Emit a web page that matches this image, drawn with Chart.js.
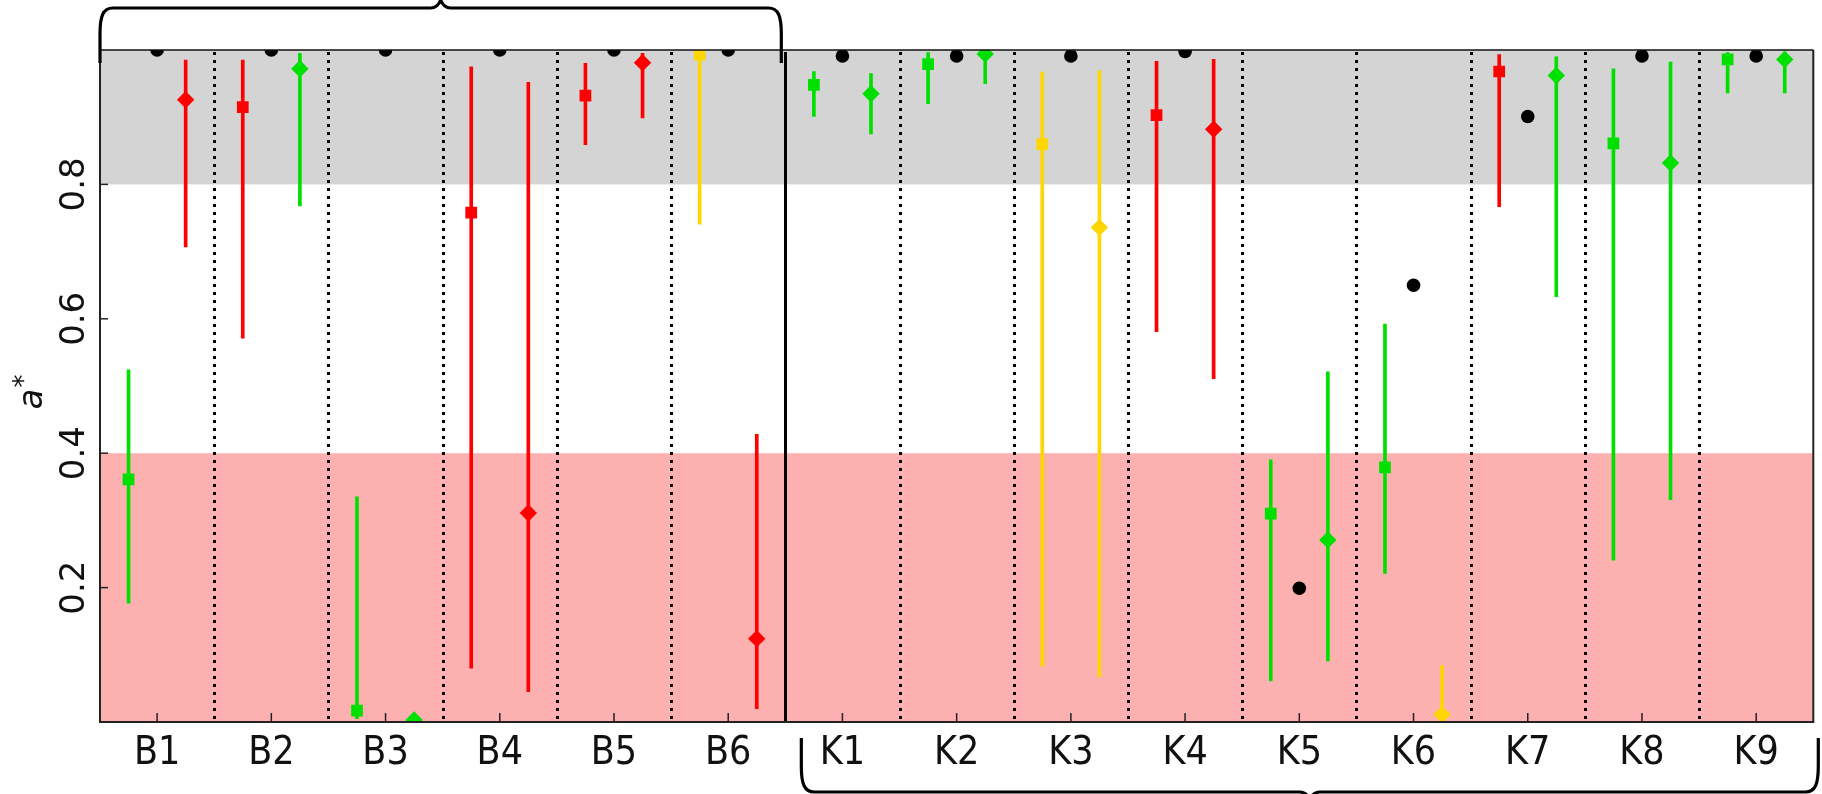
<!DOCTYPE html>
<html>
<head>
<meta charset="utf-8">
<script src="https://cdn.jsdelivr.net/npm/chart.js@4.4.0/dist/chart.umd.min.js"></script>
<style>
    html, body { margin: 0; padding: 0; background: #ffffff; }
    #wrap { width: 1822px; height: 794px; position: relative; }
</style>
</head>
<body>
<div id="wrap"><canvas id="chart"></canvas></div>
<script>
// Catégories (groupe B puis groupe K)
const categories = ['B1', 'B2', 'B3', 'B4', 'B5', 'B6', 'K1', 'K2', 'K3', 'K4', 'K5', 'K6', 'K7', 'K8', 'K9'];

// Carrés (à gauche de chaque catégorie)
const squareValue = [0.361, 0.915, 0.017, 0.758, 0.932, 0.993, 0.948, 0.979, 0.860, 0.903, 0.310, 0.379, 0.968, 0.861, 0.986];
const squareLow   = [0.177, 0.571, 0.005, 0.080, 0.859, 0.741, 0.901, 0.920, 0.083, 0.581, 0.061, 0.221, 0.767, 0.241, 0.936];
const squareHigh  = [0.524, 0.985, 0.335, 0.975, 0.980, 1.000, 0.968, 0.996, 0.967, 0.983, 0.390, 0.592, 0.993, 0.972, 0.996];

// Points noirs (au centre)
const circleValue = [1.0, 1.0, 1.0, 1.0, 1.0, 1.0, 0.991, 0.991, 0.991, 0.998, 0.199, 0.650, 0.901, 0.991, 0.991];

// Losanges (à droite de chaque catégorie)
const diamondValue = [0.926, 0.972, 0.003, 0.311, 0.981, 0.124, 0.935, 0.994, 0.736, 0.882, 0.271, 0.011, 0.962, 0.832, 0.986];
const diamondLow   = [0.707, 0.768, null, 0.045, 0.899, 0.020, 0.875, 0.950, 0.067, 0.511, 0.091, 0.000, 0.633, 0.331, 0.936];
const diamondHigh  = [0.985, 0.995, null, 0.952, 0.995, 0.428, 0.965, 1.000, 0.969, 0.986, 0.521, 0.084, 0.990, 0.982, 0.997];

// Ticks de l'axe y
const yTickValues = [0.2, 0.4, 0.6, 0.8];

// Couleurs par marqueur (style, séparé des valeurs)
const squareColor  = ['g', 'r', 'g', 'r', 'r', 'y', 'g', 'g', 'y', 'r', 'g', 'g', 'r', 'g', 'g'];
const diamondColor = ['r', 'g', 'g', 'r', 'r', 'r', 'g', 'g', 'y', 'r', 'g', 'y', 'g', 'g', 'g'];
const palette = { g: '#00e000', r: '#ff0000', y: '#ffd700' };

const SLOT = 0.25;          // décalage des carrés / losanges
const GROUP_SPLIT = 5.5;    // séparation B | K
const FONT = '"DejaVu Sans", "Liberation Sans", sans-serif';

function errorBars(values, low, high, colors, offset) {
    const data = [];
    const bg = [];
    values.forEach(function(v, i) {
        if (low[i] === null || high[i] === null) return;
        data.push({ x: i + offset, y: [low[i], high[i]] });
        bg.push(palette[colors[i]]);
    });
    return { data: data, bg: bg };
}

const squareErr = errorBars(squareValue, squareLow, squareHigh, squareColor, -SLOT);
const diamondErr = errorBars(diamondValue, diamondLow, diamondHigh, diamondColor, SLOT);

// Décor : bandes, séparateurs, cadre, graduations, accolades
const decorPlugin = {
    id: 'decor',
    beforeDatasetsDraw: function(chart) {
        const ctx = chart.ctx;
        const a = chart.chartArea;
        const xs = chart.scales.x;
        const ys = chart.scales.y;
        ctx.save();
        ctx.beginPath();
        ctx.rect(a.left, a.top, a.right - a.left, a.bottom - a.top);
        ctx.clip();

        // bandes
        ctx.fillStyle = '#d4d4d4';
        ctx.fillRect(a.left, ys.getPixelForValue(1), a.right - a.left, ys.getPixelForValue(0.8) - ys.getPixelForValue(1));
        ctx.fillStyle = '#fdb0b0';
        ctx.fillRect(a.left, ys.getPixelForValue(0.4), a.right - a.left, ys.getPixelForValue(0) - ys.getPixelForValue(0.4));

        // séparateurs entre catégories
        for (let i = 0; i < categories.length - 1; i++) {
            const v = i + 0.5;
            const px = Math.round(xs.getPixelForValue(v)) + 0.5;
            ctx.beginPath();
            if (v === GROUP_SPLIT) {
                ctx.setLineDash([]);
                ctx.lineWidth = 3;
                ctx.strokeStyle = '#000';
            } else {
                ctx.setLineDash([3, 5]);
                ctx.lineWidth = 3;
                ctx.strokeStyle = '#000';
            }
            ctx.moveTo(px, a.top + 2);
            ctx.lineTo(px, a.bottom);
            ctx.stroke();
        }
        ctx.restore();
    },
    afterDatasetsDraw: function(chart) {
        const ctx = chart.ctx;
        const a = chart.chartArea;
        const xs = chart.scales.x;
        const ys = chart.scales.y;
        ctx.save();
        ctx.setLineDash([]);

        // cadre
        ctx.strokeStyle = '#222';
        ctx.lineWidth = 2;
        ctx.beginPath();
        ctx.moveTo(a.left, a.top);
        ctx.lineTo(a.left, a.bottom);
        ctx.lineTo(a.right, a.bottom);
        ctx.lineTo(a.right, a.top);
        ctx.stroke();
        ctx.lineWidth = 1.5;
        ctx.strokeStyle = '#111';
        ctx.beginPath();
        ctx.moveTo(a.left, a.top);
        ctx.lineTo(a.right, a.top);
        ctx.stroke();

        // graduations vers l'intérieur
        ctx.lineWidth = 1.5;
        ctx.strokeStyle = '#222';
        categories.forEach(function(c, i) {
            const px = xs.getPixelForValue(i);
            ctx.beginPath();
            ctx.moveTo(px, a.bottom);
            ctx.lineTo(px, a.bottom - 9);
            ctx.stroke();
        });
        yTickValues.forEach(function(v) {
            const py = ys.getPixelForValue(v);
            ctx.beginPath();
            ctx.moveTo(a.left, py);
            ctx.lineTo(a.left + 8, py);
            ctx.stroke();
        });
        ctx.restore();
    },
    afterDraw: function(chart) {
        const ctx = chart.ctx;
        const xs = chart.scales.x;
        const ys = chart.scales.y;
        ctx.save();

        // étiquettes y tournées
        ctx.fillStyle = '#111';
        ctx.font = '34px ' + FONT;
        ctx.textAlign = 'center';
        ctx.textBaseline = 'middle';
        yTickValues.forEach(function(v) {
            ctx.save();
            ctx.translate(75, ys.getPixelForValue(v));
            ctx.rotate(-Math.PI / 2);
            ctx.fillText(v.toFixed(1), 0, 0);
            ctx.restore();
        });

        // titre de l'axe y : a*
        ctx.save();
        ctx.translate(33, 399);
        ctx.rotate(-Math.PI / 2);
        ctx.font = 'italic 34px ' + FONT;
        ctx.fillText('a', 0, 0);
        ctx.font = '26px ' + FONT;
        ctx.fillText('*', 18, -8);
        ctx.restore();

        // accolades
        ctx.strokeStyle = '#000';
        ctx.lineWidth = 3.2;
        ctx.lineJoin = 'round';
        const topL = xs.getPixelForValue(-0.5);
        const topR = xs.getPixelForValue(GROUP_SPLIT) - 4;
        drawBrace(ctx, topL, topR, 63, 8, -8);
        const botL = xs.getPixelForValue(GROUP_SPLIT) + 16;
        const botR = xs.getPixelForValue(categories.length - 0.5) + 5;
        drawBrace(ctx, botL, botR, 738, 792, 8);
        ctx.restore();
    }
};

// Accolade : extrémités à yEnd, barre à yBar, pointe de hauteur tip
function drawBrace(ctx, x1, x2, yEnd, yBar, tip) {
    const mid = (x1 + x2) / 2;
    const r = 13;
    const dir = yBar < yEnd ? -1 : 1;
    ctx.beginPath();
    ctx.moveTo(x1, yEnd);
    ctx.lineTo(x1, yBar - dir * 26);
    ctx.bezierCurveTo(x1, yBar - dir * 8, x1 + 3, yBar, x1 + r, yBar);
    ctx.lineTo(mid - 10, yBar);
    ctx.quadraticCurveTo(mid - 3, yBar, mid, yBar + tip);
    ctx.quadraticCurveTo(mid + 3, yBar, mid + 10, yBar);
    ctx.lineTo(x2 - r, yBar);
    ctx.bezierCurveTo(x2 - 3, yBar, x2, yBar - dir * 8, x2, yBar - dir * 26);
    ctx.lineTo(x2, yEnd);
    ctx.stroke();
}

const chart = new Chart(document.getElementById('chart'), {
    type: 'scatter',
    data: {
        datasets: [
            {
                label: 'carrés',
                data: squareValue.map(function(v, i) { return { x: i - SLOT, y: v }; }),
                pointStyle: 'rect',
                pointRadius: 8.3,
                pointBackgroundColor: squareColor.map(function(c) { return palette[c]; }),
                pointBorderWidth: 0,
                clip: 0,
                order: 0
            },
            {
                label: 'points',
                data: circleValue.map(function(v, i) { return { x: i, y: v }; }),
                pointStyle: 'circle',
                pointRadius: 6.8,
                pointBackgroundColor: '#000',
                pointBorderWidth: 0,
                clip: 0,
                order: 0
            },
            {
                label: 'losanges',
                data: diamondValue.map(function(v, i) { return { x: i + SLOT, y: v }; }),
                pointStyle: 'rectRot',
                pointRadius: 8.7,
                pointBackgroundColor: diamondColor.map(function(c) { return palette[c]; }),
                pointBorderWidth: 0,
                clip: 0,
                order: 0
            },
            {
                type: 'bar',
                label: 'erreur carrés',
                data: squareErr.data,
                backgroundColor: squareErr.bg,
                barThickness: 3,
                borderWidth: 0,
                grouped: false,
                order: 1
            },
            {
                type: 'bar',
                label: 'erreur losanges',
                data: diamondErr.data,
                backgroundColor: diamondErr.bg,
                barThickness: 3,
                borderWidth: 0,
                grouped: false,
                order: 1
            }
        ]
    },
    options: {
        responsive: true,
        maintainAspectRatio: false,
        animation: false,
        devicePixelRatio: 1,
        events: [],
        layout: { padding: { top: 50, right: 8, left: 0, bottom: 0 } },
        plugins: {
            legend: { display: false },
            tooltip: { enabled: false }
        },
        scales: {
            x: {
                type: 'linear',
                min: -0.5,
                max: categories.length - 0.5,
                bounds: 'data',
                offset: false,
                afterBuildTicks: function(axis) {
                    axis.ticks = categories.map(function(c, i) { return { value: i }; });
                },
                afterFit: function(axis) { axis.height = 72; },
                ticks: {
                    autoSkip: false,
                    maxRotation: 0,
                    minRotation: 0,
                    padding: 0,
                    color: '#111',
                    font: { family: '"DejaVu Sans Condensed", "DejaVu Sans", sans-serif', size: 39 },
                    callback: function(value) { return categories[value]; }
                },
                grid: { display: false, offset: false },
                border: { display: false }
            },
            y: {
                type: 'linear',
                min: 0,
                max: 1,
                bounds: 'data',
                afterBuildTicks: function(axis) {
                    axis.ticks = yTickValues.map(function(v) { return { value: v }; });
                },
                afterFit: function(axis) { axis.width = 100; },
                ticks: { display: false },
                grid: { display: false },
                border: { display: false }
            }
        }
    },
    plugins: [decorPlugin]
});
</script>
</body>
</html>
